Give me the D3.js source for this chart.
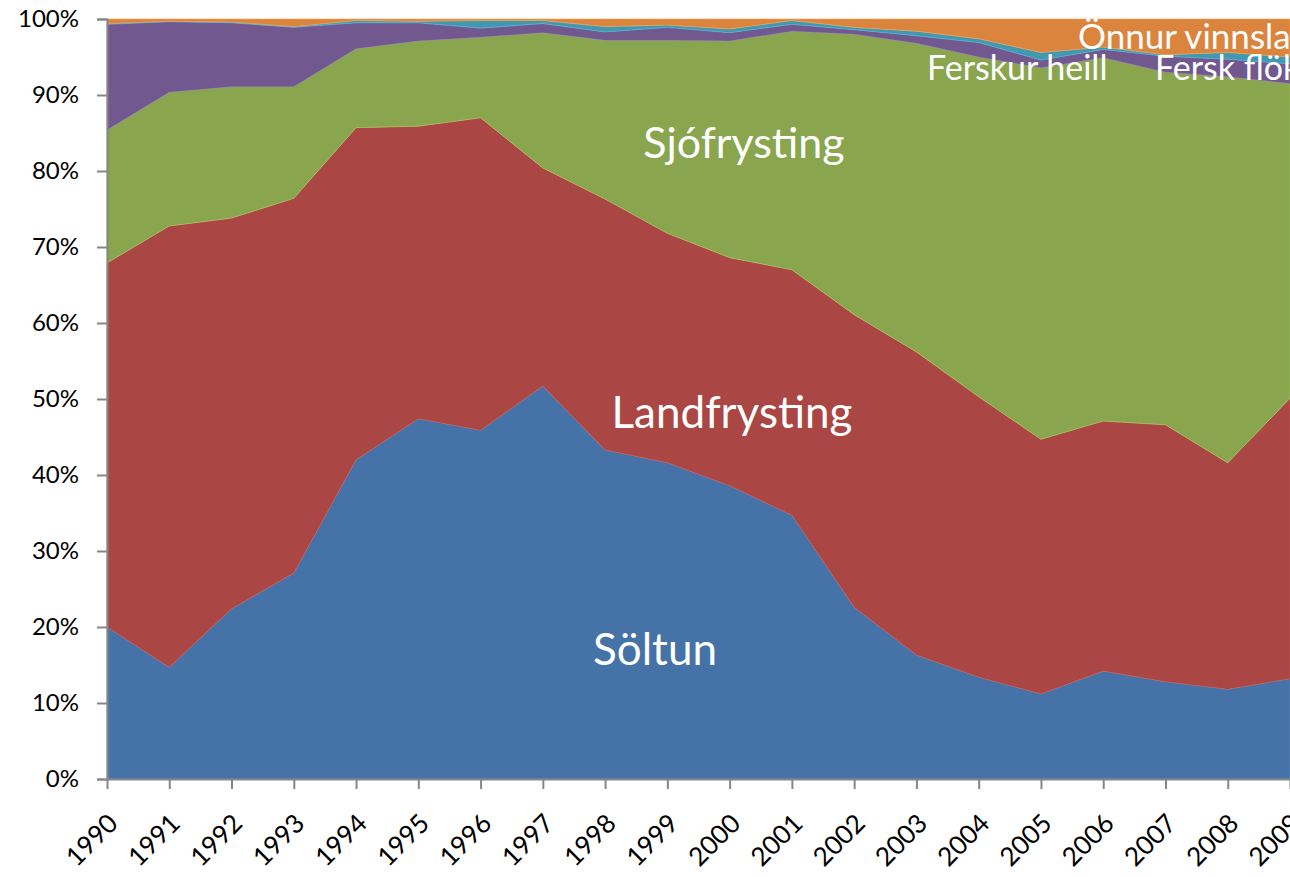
<!DOCTYPE html>
<html><head><meta charset="utf-8">
<script src="https://cdn.jsdelivr.net/npm/d3@7"></script>
<style>body{margin:0;background:#fff;overflow:hidden}svg{display:block}</style>
</head><body><svg id="c" width="1290" height="877"></svg>
<script>
const years = [1990,1991,1992,1993,1994,1995,1996,1997,1998,1999,2000,2001,2002,2003,2004,2005,2006,2007,2008,2009];
const seriesNames = ["Söltun","Landfrysting","Sjófrysting","Ferskur heill","Fersk flök","Önnur vinnsla"];
const soltun       = [20.0,14.7,22.4,27.1,42.0,47.4,45.9,51.7,43.3,41.6,38.6,34.7,22.6,16.3,13.4,11.2,14.2,12.8,11.8,13.2];
const landfrysting = [47.9,58.1,51.4,49.3,43.7,38.5,41.1,28.7,33.0,30.2,30.0,32.3,38.5,39.9,36.9,33.5,32.9,33.8,29.8,36.9];
const sjofrysting  = [17.5,17.6,17.3,14.7,10.4,11.2,10.6,17.8,20.9,25.4,28.5,31.4,36.9,40.6,44.7,48.9,47.8,46.4,50.8,41.4];
const ferskurHeill = [13.9,9.3,8.4,7.8,3.4,2.4,1.2,1.2,1.1,1.7,1.1,0.9,0.6,1.0,1.9,1.0,1.1,2.1,2.3,2.6];
const ferskFlok    = [0.1,0.05,0.1,0.1,0.3,0.2,1.0,0.4,0.7,0.3,0.5,0.5,0.3,0.6,0.5,1.0,0.3,0.2,0.9,0.9];
const onnurVinnsla = [0.6,0.3,0.4,1.0,0.2,0.3,0.2,0.2,1.0,0.8,1.3,0.2,1.1,1.6,2.6,4.4,3.7,4.7,4.4,5.0];
const yTicks = [0,0.1,0.2,0.3,0.4,0.5,0.6,0.7,0.8,0.9,1.0];
const colors = ["#4572A7","#AA4643","#89A54E","#71588F","#4198AF","#DB843D"];

const valuesBySeries = [soltun,landfrysting,sjofrysting,ferskurHeill,ferskFlok,onnurVinnsla];
const table = years.map((y,i)=>{const o={year:y}; seriesNames.forEach((n,k)=>o[n]=valuesBySeries[k][i]); return o;});

const svg = d3.select("#c");
const L=107, R=1290, T=19, B=779;
const x = d3.scaleLinear().domain([1990,2009]).range([L,R]);
const y = d3.scaleLinear().domain([0,1]).range([B,T]);

const stack = d3.stack().keys(seriesNames).offset(d3.stackOffsetExpand);
const layers = stack(table);
const area = d3.area().x(d=>x(d.data.year)).y0(d=>y(d[0])).y1(d=>y(d[1]));

svg.append("g").selectAll("path").data(layers).join("path")
  .attr("d",area).attr("fill",(d,i)=>colors[i])
  .attr("stroke",(d,i)=>d3.color(colors[i]).brighter(0.6)).attr("stroke-width",0.6);

// axes
const font = "Lato, 'Open Sans', sans-serif";
const yAxis = svg.append("g").attr("transform",`translate(${L},0)`)
  .call(d3.axisLeft(y).tickValues(yTicks).tickFormat(d3.format(".0%")).tickSize(10).tickPadding(18));
yAxis.select(".domain").attr("stroke","#868686").attr("stroke-width",2);
yAxis.selectAll(".tick line").attr("stroke","#868686").attr("stroke-width",2);
yAxis.selectAll("text").attr("font-family",font).attr("font-size",24).attr("fill","#000");

const xAxis = svg.append("g").attr("transform",`translate(0,${B})`)
  .call(d3.axisBottom(x).tickValues(years).tickFormat(d3.format("d")).tickSize(10).tickSizeOuter(0));
xAxis.select(".domain").attr("stroke","#868686").attr("stroke-width",2);
xAxis.selectAll(".tick line").attr("stroke","#868686").attr("stroke-width",2);
xAxis.selectAll("text").attr("font-family",font).attr("font-size",26).attr("fill","#000")
  .attr("text-anchor","end").attr("dy","0").attr("y",0)
  .attr("transform","translate(12,46) rotate(-45)");

// series labels
const lab = svg.append("g").attr("font-family",font).attr("fill","#fff");
lab.append("text").attr("x",655).attr("y",665).attr("text-anchor","middle").attr("font-size",44).text("Söltun");
lab.append("text").attr("x",732).attr("y",428).attr("text-anchor","middle").attr("font-size",44).text("Landfrysting");
lab.append("text").attr("x",744).attr("y",158).attr("text-anchor","middle").attr("font-size",43).text("Sjófrysting");
lab.append("text").attr("x",927).attr("y",80).attr("font-size",34).text("Ferskur heill");
lab.append("text").attr("x",1078).attr("y",49).attr("font-size",35).text("Önnur vinnsla");
lab.append("text").attr("x",1155).attr("y",80).attr("font-size",34).text("Fersk flök");
</script></body></html>
